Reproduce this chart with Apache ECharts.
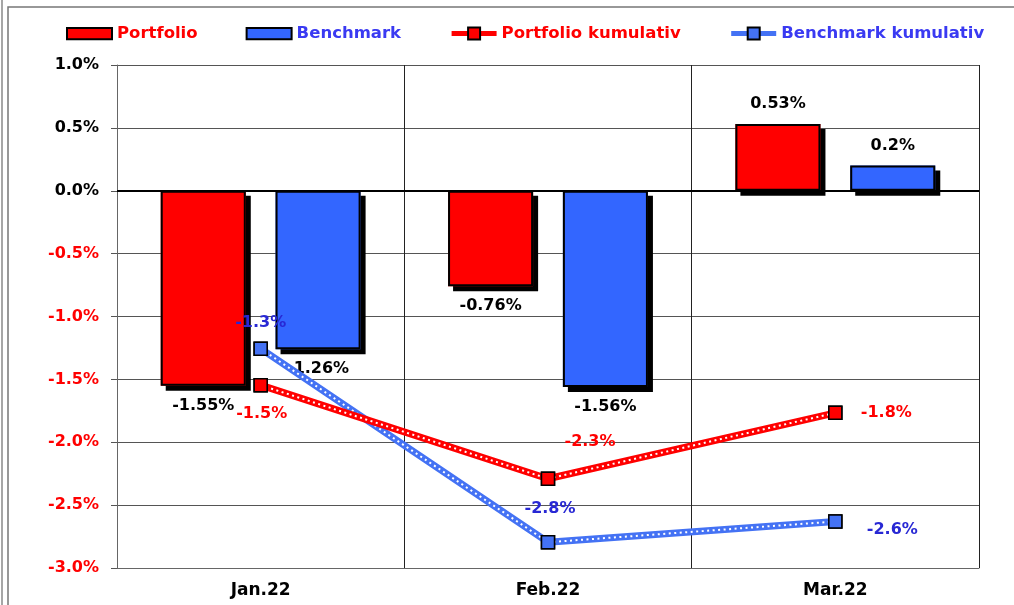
<!DOCTYPE html>
<html><head><meta charset="utf-8">
<script src="https://cdn.jsdelivr.net/npm/echarts@6/dist/echarts.min.js"></script>
<style>html,body{margin:0;padding:0;background:#fff}#c{width:1014px;height:605px}</style>
</head><body><div id="c"></div>
<script>
// ---- data ----
const categories = ['Jan.22', 'Feb.22', 'Mar.22'];
const portfolio = [-1.55, -0.76, 0.53];
const benchmark = [-1.26, -1.56, 0.2];
const portfolioCum = [-1.546, -2.29, -1.766];
const benchmarkCum = [-1.256, -2.795, -2.63];
const yMin = -3.0, yMax = 1.0, yStep = 0.5;

// ---- style ----
const FONT = 'DejaVu Sans';
const RED = '#ff0000', BLUE = '#3366ff', BLUE_TXT = '#3a3af2', BLUE_LBL = '#2828d4', BLUE_LINE = '#4472f4';
const pCumLabelOffsets = [[1, 29], [42, -37], [51, 0]];
const bCumLabelOffsets = [[0, -26], [2, -33], [57, 8]];
const BAR_W = '29.6%', BAR_GAP = '35%';

const chart = echarts.init(document.getElementById('c'), null, {renderer: 'canvas'});

const barLabel = {
  show: true, position: 'outside', distance: 12,
  color: '#000', fontFamily: FONT, fontWeight: 'bold', fontSize: 16,
  formatter: p => p.value + '%'
};

function fillBar(name, data, color) {
  return {
    name, type: 'bar', data, xAxisIndex: 0, z: 2,
    barWidth: BAR_W, barGap: BAR_GAP,
    itemStyle: {color, borderWidth: 0, shadowColor: '#000', shadowBlur: 0, shadowOffsetX: 5, shadowOffsetY: 5},
    label: barLabel, emphasis: {disabled: true}
  };
}
function borderBar(name, data) {
  return {
    name: name + '_border', type: 'bar', data, xAxisIndex: 1, z: 2,
    barWidth: BAR_W, barGap: BAR_GAP,
    itemStyle: {color: 'rgba(0,0,0,0)', borderColor: '#000', borderWidth: 2},
    silent: true, emphasis: {disabled: true}
  };
}
function mainLine(name, data, color) {
  return {
    name, type: 'line', data, z: 3,
    symbol: 'rect', symbolSize: 13,
    itemStyle: {color: color, borderColor: '#000', borderWidth: 1.5},
    lineStyle: {color: color, width: 7},
    emphasis: {disabled: true}
  };
}
function overlayLine(name, data, color, lblColor, offsets) {
  return {
    name: name + '_dots', type: 'line', z: 3,
    data: data.map((v, i) => ({value: v, label: {offset: offsets[i]}})),
    symbol: 'rect', symbolSize: 13,
    itemStyle: {color: color, borderColor: '#000', borderWidth: 1.5},
    lineStyle: {color: '#ffffff', width: 2, type: [2, 3.5]},
    label: {
      show: true, position: 'inside', color: lblColor,
      fontFamily: FONT, fontWeight: 'bold', fontSize: 16,
      formatter: p => p.value.toFixed(1) + '%'
    },
    emphasis: {disabled: true}
  };
}

const option = {
  animation: false,
  backgroundColor: '#fff',
  textStyle: {fontFamily: FONT},
  graphic: [
    {type: 'line', shape: {x1: 2, y1: 0, x2: 2, y2: 605}, style: {stroke: '#888', lineWidth: 1.5}},
    {type: 'rect', shape: {x: 8, y: 7, width: 1100, height: 700}, style: {fill: 'none', stroke: '#777', lineWidth: 1.5}}
  ],
  legend: {
    left: 66, top: 25, padding: 0,
    itemWidth: 45, itemHeight: 15, itemGap: 48,
    itemStyle: {shadowBlur: 0, shadowOffsetX: 0, shadowOffsetY: 0, shadowColor: 'rgba(0,0,0,0)'},
    lineStyle: {width: 5},
    textStyle: {fontFamily: FONT, fontWeight: 'bold', fontSize: 16.5},
    selectedMode: false,
    data: [
      {name: 'Portfolio', icon: 'path://M0,0H44V11H0Z', itemStyle: {borderColor: '#000', borderWidth: 2}, textStyle: {color: RED}},
      {name: 'Benchmark', icon: 'path://M0,0H44V11H0Z', itemStyle: {borderColor: '#000', borderWidth: 2}, textStyle: {color: BLUE_TXT}},
      {name: 'Portfolio kumulativ', textStyle: {color: RED}},
      {name: 'Benchmark kumulativ', textStyle: {color: BLUE_TXT}}
    ]
  },
  grid: {left: 117, right: 35, top: 65, bottom: 37, containLabel: false},
  xAxis: [{
    type: 'category', data: categories, boundaryGap: true,
    axisLine: {show: true, onZero: false, lineStyle: {color: '#666', width: 1}},
    axisTick: {show: false},
    splitLine: {show: true, lineStyle: {color: '#222', width: 1}},
    axisLabel: {color: '#000', fontFamily: FONT, fontWeight: 'bold', fontSize: 17, margin: 14}
  }, {
    type: 'category', data: categories, boundaryGap: true, position: 'bottom',
    axisLine: {show: false}, axisTick: {show: false}, axisLabel: {show: false}, splitLine: {show: false}
  }],
  yAxis: {
    type: 'value', min: yMin, max: yMax, interval: yStep,
    axisLine: {show: true, lineStyle: {color: '#666', width: 1}},
    axisTick: {show: true, length: 6, lineStyle: {color: '#555'}},
    splitLine: {show: true, lineStyle: {color: '#555', width: 1}},
    axisLabel: {
      fontFamily: FONT, fontWeight: 'bold', fontSize: 16, margin: 18,
      formatter: v => v.toFixed(1) + '%',
      color: v => (v < 0 ? RED : '#000')
    }
  },
  series: [
    Object.assign(fillBar('Portfolio', portfolio, RED), {
      markLine: {
        silent: true, symbol: ['none', 'none'], label: {show: false},
        lineStyle: {color: '#000', width: 2, type: 'solid'},
        data: [{yAxis: 0}]
      }
    }),
    fillBar('Benchmark', benchmark, BLUE),
    borderBar('Portfolio', portfolio),
    borderBar('Benchmark', benchmark),
    mainLine('Benchmark kumulativ', benchmarkCum, BLUE_LINE),
    overlayLine('Benchmark kumulativ', benchmarkCum, BLUE_LINE, BLUE_LBL, bCumLabelOffsets),
    mainLine('Portfolio kumulativ', portfolioCum, RED),
    overlayLine('Portfolio kumulativ', portfolioCum, RED, RED, pCumLabelOffsets)
  ]
};
chart.setOption(option);
</script>
</body></html>
